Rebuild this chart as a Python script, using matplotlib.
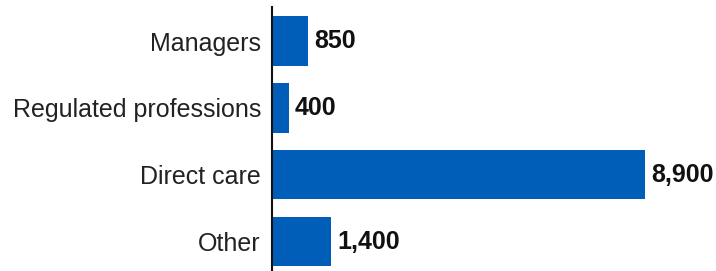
import matplotlib
matplotlib.use("Agg")
import matplotlib.pyplot as plt

categories = ["Managers", "Regulated professions", "Direct care", "Other"]
values = [850, 400, 8900, 1400]
labels = ["850", "400", "8,900", "1,400"]

plt.rcParams['font.family'] = ['Liberation Sans', 'DejaVu Sans']

fig = plt.figure(figsize=(7.16, 2.71), dpi=100)
ax = fig.add_axes([272/716, 0, 1 - 272/716, 264/271])

y = list(range(len(categories)))
ax.barh(y, values, height=0.74, color="#005EB8")
for yi, v, lab in zip(y, values, labels):
    ax.text(v + 150, yi, lab, va="center", ha="left", fontsize=18, fontweight="bold", color="#111111")

ax.set_xlim(0, 10594)
ax.set_ylim(3.44, -0.51)
ax.set_yticks(y)
ax.set_yticklabels(categories, fontsize=18, color="#222222")
ax.tick_params(axis="y", length=0, pad=8)
ax.set_xticks([])
for s in ["top", "right", "bottom"]:
    ax.spines[s].set_visible(False)
ax.spines["left"].set_color("#111111")
ax.spines["left"].set_linewidth(1.5)

fig.savefig("out.png", dpi=100)
